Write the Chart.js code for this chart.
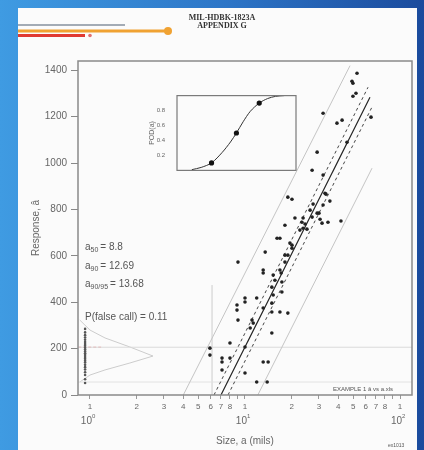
<!DOCTYPE html>
<html>
<head>
<meta charset="utf-8">
<script src="https://cdn.jsdelivr.net/npm/chart.js@4.4.1/dist/chart.umd.min.js"></script>
<style>
  html, body { margin: 0; padding: 0; }
  body {
    width: 424px; height: 450px; overflow: hidden; position: relative;
    background: linear-gradient(90deg, #3f9be2 0%, #2c74c6 55%, #1b4b9d 100%);
  }
  #page { position: absolute; left: 18px; top: 8px; width: 399px; height: 442px; background: #fbfbfb; }
  #main { position: absolute; left: 0; top: 0; }
  #inset { position: absolute; left: 148px; top: 88px; }
</style>
</head>
<body>
<div id="page"></div>
<canvas id="main" width="424" height="450"></canvas>
<canvas id="inset" width="152" height="90"></canvas>
<script>
// hit/miss data: crack size a (mils) and response â
const sizes = [52.8, 49.0, 49.7, 49.7, 52.0, 31.9, 39.2, 42.3, 65.0,
  45.5, 29.2, 27.1, 31.9,
  18.9, 20.1, 32.8, 33.3, 35.3, 31.9, 27.5, 26.3, 29.2, 30.0,
  21.0, 23.7, 27.1, 30.5, 23.3, 24.4, 31.4, 34.3, 41.6,
  18.1, 23.7, 25.1, 22.6, 16.1, 16.8,
  20.1, 18.1, 18.9, 18.1, 19.5, 20.1, 13.5,
  9.01, 13.1, 13.1, 15.2, 15.6, 16.8, 17.1, 17.3, 17.3, 14.9,
  15.2, 14.9, 16.8, 18.9,
  10.0, 10.0, 8.88, 8.88, 9.01, 11.9, 13.1, 14.9, 11.1, 11.3, 10.8, 14.9,
  8.00, 10.0, 7.11, 7.11, 8.00, 5.94, 5.94, 13.1, 14.1, 10.0, 11.9, 13.9, 7.11];
const responses = [1387, 1353, 1344, 1288, 1301, 1215, 1172, 1185, 1198,
  1090, 1047, 969, 948,
  853, 844, 870, 866, 836, 819, 823, 797, 784, 784,
  763, 763, 767, 758, 745, 737, 741, 745, 750,
  732, 719, 715, 711, 676, 676,
  646, 603, 603, 573, 655, 633, 616,
  573, 539, 526, 517, 495, 539, 526, 487, 444, 465,
  431, 358, 358, 353,
  418, 401, 388, 366, 323, 418, 375, 396, 323, 310, 289, 267,
  224, 207, 159, 142, 159, 202, 172, 142, 142, 95, 56, 56, 108];

// noise (a ~ 1) responses
const noiseSizes = [0.93, 0.93, 0.93, 0.93, 0.93, 0.93, 0.93, 0.93, 0.93, 0.93, 0.93, 0.93,
  0.93, 0.93, 0.93, 0.93, 0.93, 0.93, 0.93, 0.93, 0.93, 0.93, 0.93, 0.93];
const noiseResponses = [285, 270, 258, 248, 238, 228, 220, 212, 204, 196, 188, 180,
  172, 164, 156, 148, 140, 130, 120, 110, 98, 86, 68, 52];

// fitted line and bounds
const fitSizes = [7.0, 64.0];
const fitResponses = [0, 1284];
const upperSizes = [6.31, 62.2];
const upperResponses = [0, 1327];
const lowerSizes = [7.77, 65.9];
const lowerResponses = [0, 1241];
const predUpperSizes = [4.0, 47.6];
const predUpperResponses = [0, 1420];
const predLowerSizes = [12.1, 66.0];
const predLowerResponses = [0, 978];

// thresholds
const decisionLevel = 206;
const noiseLevel = 56;
const sizeRange = [0.837, 119.5];
const a50Size = 6.13;
const a50Top = 474;

// noise density (sideways)
const densitySizes = [0.86, 1.0, 1.25, 1.81, 2.55, 1.81, 1.25, 1.0, 0.86];
const densityResponses = [323, 280, 246, 207, 168, 138, 108, 86, 56];

// axis ticks
const yTicks = [0, 200, 400, 600, 800, 1000, 1200, 1400];
const xTickValues = [1, 2, 3, 4, 5, 6, 7, 8, 9, 10, 20, 30, 40, 50, 60, 70, 80, 90, 100];
const xTickLabels = ['1', '2', '3', '4', '5', '6', '7', '8', '', '1', '2', '3', '4', '5', '6', '7', '8', '', '1'];
const decades = [1, 10, 100];
const decadeExp = ['0', '1', '2'];

// POD inset
const podSizes = [4.3, 5.0, 5.9, 7.0, 8.0, 8.8, 9.8, 11.0, 12.69, 14.5, 16.5, 19.0];
const podValues = [0.01, 0.04, 0.10, 0.24, 0.38, 0.50, 0.65, 0.79, 0.90, 0.96, 0.99, 1.0];
const podMarkSizes = [5.9, 8.8, 12.69];
const podMarkValues = [0.10, 0.50, 0.90];
const podTicks = [0.2, 0.4, 0.6, 0.8];

const pts = (xs, ys) => xs.map((v, i) => ({ x: v, y: ys[i] }));
const line = (data, color, width, dash) => ({
  data, showLine: true, pointRadius: 0, borderColor: color,
  borderWidth: width, borderDash: dash || [], fill: false
});

function subText(ctx, x, y, sub, rest) {
  ctx.font = '10px Arial';
  ctx.fillText('a', x, y);
  let w = ctx.measureText('a').width;
  ctx.font = '7px Arial';
  ctx.fillText(sub, x + w, y + 3);
  w += ctx.measureText(sub).width;
  ctx.font = '10px Arial';
  ctx.fillText(rest, x + w + 2, y);
}

const decor = {
  id: 'decor',
  afterDraw(chart) {
    const { ctx, chartArea: a, scales: { x } } = chart;
    ctx.save();
    ctx.strokeStyle = '#8a8a8a';
    ctx.lineWidth = 1.5;
    ctx.strokeRect(a.left, a.top, a.right - a.left, a.bottom - a.top);

    // slide header
    ctx.fillStyle = '#333';
    ctx.textAlign = 'center';
    ctx.textBaseline = 'middle';
    ctx.font = 'bold 8px "Liberation Serif"';
    ctx.fillText('MIL-HDBK-1823A', 222, 18);
    ctx.fillText('APPENDIX G', 222, 26);
    ctx.lineCap = 'butt';
    ctx.lineWidth = 2; ctx.strokeStyle = '#a3abb5';
    ctx.beginPath(); ctx.moveTo(18, 25); ctx.lineTo(125, 25); ctx.stroke();
    ctx.lineWidth = 3; ctx.strokeStyle = '#f0a232';
    ctx.beginPath(); ctx.moveTo(18, 31); ctx.lineTo(166, 31); ctx.stroke();
    ctx.fillStyle = '#f0a232';
    ctx.beginPath(); ctx.arc(168, 31, 4, 0, Math.PI * 2); ctx.fill();
    ctx.strokeStyle = '#e03a32';
    ctx.beginPath(); ctx.moveTo(18, 35.5); ctx.lineTo(85, 35.5); ctx.stroke();
    ctx.fillStyle = '#e07070';
    ctx.beginPath(); ctx.arc(90, 35.5, 1.8, 0, Math.PI * 2); ctx.fill();

    // decade labels
    ctx.fillStyle = '#666';
    decades.forEach((v, i) => {
      const px = x.getPixelForValue(v);
      ctx.font = '10px Arial';
      ctx.textAlign = 'right';
      ctx.fillText('10', px + 2, 421);
      ctx.font = '6px Arial';
      ctx.textAlign = 'left';
      ctx.fillText(decadeExp[i], px + 2, 416);
    });

    // axis titles
    ctx.font = '10px Arial';
    ctx.textAlign = 'center';
    ctx.fillText('Size, a (mils)', (a.left + a.right) / 2, 441);
    ctx.save();
    ctx.translate(36, (a.top + a.bottom) / 2);
    ctx.rotate(-Math.PI / 2);
    ctx.fillText('Response, \u00e2', 0, 0);
    ctx.restore();

    // annotations
    ctx.fillStyle = '#555';
    ctx.textAlign = 'left';
    subText(ctx, 85, 247, '50', '= 8.8');
    subText(ctx, 85, 266, '90', '= 12.69');
    subText(ctx, 85, 284, '90/95', '= 13.68');
    ctx.font = '10px Arial';
    ctx.fillText('P(false call) = 0.11', 85, 317);
    ctx.font = '6px Arial';
    ctx.fillText('EXAMPLE 1 \u00e2 vs a.xls', 333, 389);
    ctx.font = '5px Arial';
    ctx.fillText('ex1013', 388, 446);
    ctx.restore();
  }
};

new Chart(document.getElementById('main'), {
  type: 'scatter',
  data: {
    datasets: [
      { data: pts(sizes, responses), pointRadius: 1.8, pointBackgroundColor: '#222', pointBorderWidth: 0 },
      { data: pts(noiseSizes, noiseResponses), pointRadius: 1.3, pointBackgroundColor: '#555', pointBorderWidth: 0 },
      line(pts(fitSizes, fitResponses), '#222', 1.2),
      line(pts(upperSizes, upperResponses), '#444', 1, [3, 3]),
      line(pts(lowerSizes, lowerResponses), '#444', 1, [3, 3]),
      line(pts(predUpperSizes, predUpperResponses), '#c4c4c4', 1),
      line(pts(predLowerSizes, predLowerResponses), '#c4c4c4', 1),
      line(pts(sizeRange, [decisionLevel, decisionLevel]), '#dadada', 1),
      line(pts(sizeRange, [noiseLevel, noiseLevel]), '#e2e2e2', 1),
      line(pts([a50Size, a50Size], [0, a50Top]), '#cccccc', 1),
      line(pts(densitySizes, densityResponses), '#cccccc', 1),
      line(pts([0.84, 1.18], [decisionLevel, decisionLevel]), '#e58a8a', 1, [3, 2])
    ]
  },
  options: {
    responsive: false,
    animation: false,
    layout: { padding: { left: 0, right: 12, top: 61, bottom: 0 } },
    plugins: { legend: { display: false }, tooltip: { enabled: false } },
    scales: {
      x: {
        type: 'logarithmic',
        min: sizeRange[0], max: sizeRange[1],
        afterFit: s => { s.height = 55; },
        afterBuildTicks: s => { s.ticks = xTickValues.map(v => ({ value: v })); },
        ticks: {
          autoSkip: false, maxRotation: 0, padding: 3,
          font: { size: 8, family: 'Arial' }, color: '#666',
          callback: (v, i) => xTickLabels[i]
        },
        grid: { drawOnChartArea: false, tickLength: 4, color: '#999' },
        border: { display: false }
      },
      y: {
        min: 0, max: 1440,
        afterFit: s => { s.width = 78; },
        afterBuildTicks: s => { s.ticks = yTicks.map(v => ({ value: v })); },
        ticks: { font: { size: 10, family: 'Arial' }, color: '#666', padding: 4, callback: v => String(v) },
        grid: { drawOnChartArea: false, tickLength: 7, color: '#888' },
        border: { display: false }
      }
    }
  },
  plugins: [decor]
});

const insetBox = {
  id: 'insetBox',
  afterDraw(chart) {
    const { ctx, chartArea: a } = chart;
    ctx.save();
    ctx.strokeStyle = '#7a7a7a';
    ctx.lineWidth = 1.2;
    ctx.strokeRect(a.left, a.top, a.right - a.left, a.bottom - a.top);
    ctx.restore();
  }
};

new Chart(document.getElementById('inset'), {
  type: 'scatter',
  data: {
    datasets: [
      { data: pts(podMarkSizes, podMarkValues), pointRadius: 2.6, pointBackgroundColor: '#111', pointBorderWidth: 0, clip: 6 },
      { data: pts(podSizes, podValues), showLine: true, pointRadius: 0, borderColor: '#333', borderWidth: 1, tension: 0.3, clip: 6 }
    ]
  },
  options: {
    responsive: false,
    animation: false,
    layout: { padding: { left: 0, right: 3, top: 4, bottom: 4 } },
    plugins: { legend: { display: false }, tooltip: { enabled: false } },
    scales: {
      x: { type: 'logarithmic', min: 3.39, max: 22.9, display: false },
      y: {
        min: 0, max: 1,
        afterFit: s => { s.width = 29; },
        afterBuildTicks: s => { s.ticks = podTicks.map(v => ({ value: v })); },
        ticks: { font: { size: 6, family: 'Arial' }, color: '#666', padding: 4, callback: v => v.toFixed(1) },
        grid: { display: false },
        border: { display: false },
        title: { display: true, text: 'POD(a)', font: { size: 7, family: 'Arial' }, color: '#666', padding: 0 }
      }
    }
  },
  plugins: [insetBox]
});
</script>
</body>
</html>
